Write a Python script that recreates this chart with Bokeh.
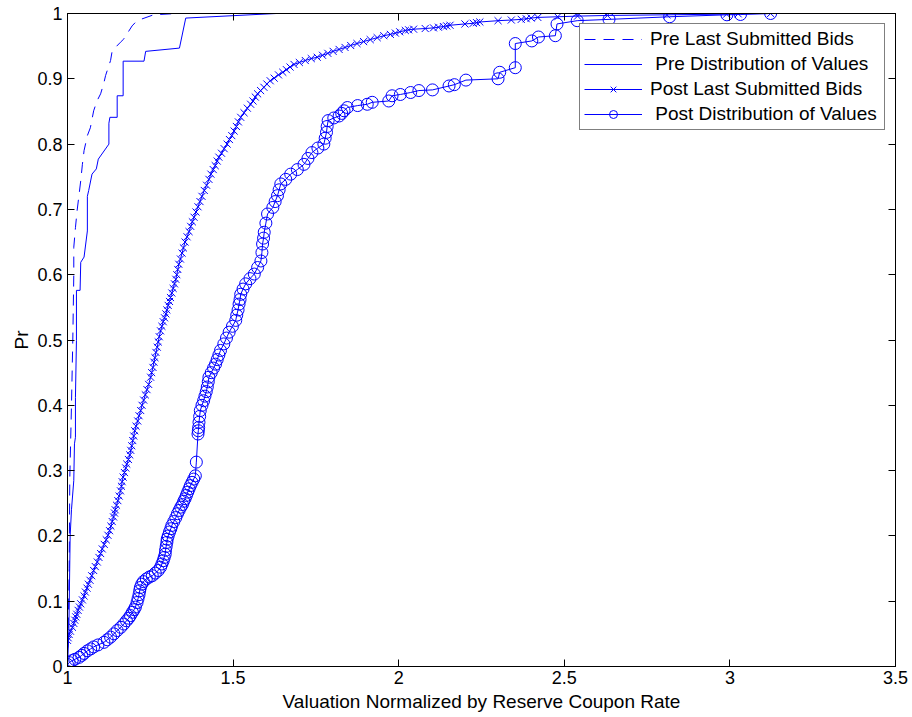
from bokeh.plotting import figure
from bokeh.models import (Range1d, FixedTicker, LinearAxis, Legend, LegendItem,
                          CustomLabelingPolicy)
from bokeh.embed import file_html
from bokeh.resources import INLINE

# ---------------------------------------------------------------------------
# Data: empirical distributions of normalized valuations
# ---------------------------------------------------------------------------
x_ticks = [1, 1.5, 2, 2.5, 3, 3.5]
x_tick_labels = ["1", "1.5", "2", "2.5", "3", "3.5"]
y_ticks = [0, 0.1, 0.2, 0.3, 0.4, 0.5, 0.6, 0.7, 0.8, 0.9, 1]
y_tick_labels = ["0", "0.1", "0.2", "0.3", "0.4", "0.5", "0.6", "0.7", "0.8", "0.9", "1"]

series_names = [
    "Pre Last Submitted Bids",
    "\u00a0Pre Distribution of Values",
    "Post Last Submitted Bids",
    "\u00a0Post Distribution of Values",
]

# Pre period, last submitted bids
pre_bids_x = [1.000, 1.002, 1.005, 1.007, 1.012, 1.016, 1.019, 1.019, 1.024, 1.029,
              1.035, 1.040, 1.045, 1.050, 1.060, 1.069, 1.079, 1.089, 1.100, 1.110,
              1.115, 1.130, 1.135, 1.160, 1.170, 1.195, 1.210, 1.260, 1.330]
pre_bids_p = [0.000, 0.050, 0.150, 0.290, 0.400, 0.500, 0.600, 0.642, 0.672, 0.698,
              0.723, 0.744, 0.769, 0.790, 0.813, 0.825, 0.851, 0.866, 0.877, 0.894,
              0.905, 0.928, 0.943, 0.956, 0.961, 0.981, 0.989, 0.998, 1.000]

# Pre period, distribution of values
pre_vals_x = [1.000, 1.004, 1.008, 1.012, 1.019, 1.021, 1.024, 1.024, 1.027, 1.027,
              1.038, 1.040, 1.050, 1.060, 1.060, 1.064, 1.074, 1.087, 1.093, 1.125,
              1.125, 1.128, 1.150, 1.150, 1.168, 1.168, 1.231, 1.236, 1.338, 1.357,
              1.630]
pre_vals_p = [0.000, 0.050, 0.200, 0.240, 0.285, 0.341, 0.351, 0.412, 0.499, 0.576,
              0.576, 0.619, 0.627, 0.667, 0.720, 0.729, 0.754, 0.762, 0.777, 0.800,
              0.832, 0.841, 0.841, 0.874, 0.874, 0.927, 0.927, 0.942, 0.947, 0.993,
              1.000]

# Post period, last submitted bids
post_bids_x = [1.000, 1.002, 1.005, 1.009, 1.015, 1.019, 1.022, 1.025, 1.028, 1.032,
               1.036, 1.040, 1.045, 1.050, 1.054, 1.059, 1.063, 1.068, 1.073, 1.079,
               1.084, 1.090, 1.095, 1.100, 1.105, 1.111, 1.117, 1.122, 1.127, 1.131,
               1.135, 1.139, 1.142, 1.144, 1.148, 1.152, 1.156, 1.160, 1.163, 1.165,
               1.168, 1.172, 1.176, 1.179, 1.184, 1.188, 1.191, 1.194, 1.197, 1.200,
               1.203, 1.207, 1.212, 1.216, 1.221, 1.225, 1.230, 1.235, 1.240, 1.245,
               1.251, 1.254, 1.258, 1.261, 1.264, 1.267, 1.271, 1.274, 1.277, 1.281,
               1.285, 1.289, 1.293, 1.297, 1.300, 1.304, 1.308, 1.311, 1.315, 1.319,
               1.323, 1.327, 1.330, 1.333, 1.336, 1.341, 1.346, 1.350, 1.355, 1.361,
               1.367, 1.372, 1.377, 1.382, 1.388, 1.394, 1.400, 1.406, 1.413, 1.420,
               1.427, 1.433, 1.440, 1.446, 1.452, 1.457, 1.465, 1.473, 1.482, 1.489,
               1.496, 1.503, 1.510, 1.516, 1.523, 1.533, 1.543, 1.553, 1.560, 1.567,
               1.574, 1.583, 1.593, 1.602, 1.612, 1.624, 1.637, 1.650, 1.661, 1.672,
               1.684, 1.700, 1.718, 1.736, 1.754, 1.770, 1.786, 1.802, 1.820, 1.838,
               1.855, 1.874, 1.894, 1.914, 1.935, 1.955, 1.975, 1.990, 2.003, 2.020,
               2.030, 2.045, 2.080, 2.105, 2.120, 2.135, 2.145, 2.155, 2.200, 2.225,
               2.235, 2.245, 2.300, 2.340, 2.370, 2.385, 2.400, 2.420, 2.480, 2.540,
               2.630, 2.810, 2.990, 3.025, 3.123]
post_bids_p = [0.040, 0.044, 0.049, 0.054, 0.060, 0.066, 0.071, 0.076, 0.080, 0.086,
               0.091, 0.096, 0.102, 0.108, 0.114, 0.120, 0.126, 0.132, 0.139, 0.147,
               0.153, 0.160, 0.167, 0.173, 0.180, 0.187, 0.194, 0.201, 0.208, 0.215,
               0.222, 0.229, 0.235, 0.240, 0.247, 0.254, 0.261, 0.269, 0.276, 0.283,
               0.290, 0.297, 0.304, 0.310, 0.317, 0.324, 0.331, 0.338, 0.346, 0.353,
               0.361, 0.368, 0.376, 0.384, 0.392, 0.400, 0.408, 0.416, 0.424, 0.432,
               0.443, 0.450, 0.458, 0.466, 0.473, 0.481, 0.489, 0.497, 0.505, 0.514,
               0.521, 0.528, 0.534, 0.540, 0.546, 0.553, 0.559, 0.565, 0.572, 0.579,
               0.586, 0.593, 0.600, 0.608, 0.616, 0.624, 0.633, 0.641, 0.650, 0.658,
               0.666, 0.674, 0.681, 0.688, 0.696, 0.704, 0.712, 0.720, 0.729, 0.737,
               0.746, 0.754, 0.761, 0.767, 0.774, 0.780, 0.786, 0.793, 0.800, 0.807,
               0.813, 0.820, 0.827, 0.834, 0.841, 0.848, 0.855, 0.861, 0.866, 0.872,
               0.877, 0.882, 0.887, 0.892, 0.897, 0.901, 0.906, 0.910, 0.914, 0.918,
               0.922, 0.925, 0.928, 0.931, 0.933, 0.936, 0.939, 0.942, 0.945, 0.948,
               0.951, 0.954, 0.957, 0.960, 0.963, 0.966, 0.968, 0.970, 0.972, 0.974,
               0.975, 0.976, 0.977, 0.978, 0.979, 0.980, 0.981, 0.982, 0.984, 0.985,
               0.986, 0.987, 0.989, 0.990, 0.991, 0.992, 0.993, 0.994, 0.995, 0.996,
               0.997, 0.998, 0.999, 0.9995, 1.000]

# Post period, distribution of values
post_vals_x = [1.000, 1.005, 1.014, 1.022, 1.035, 1.043, 1.050, 1.060, 1.070, 1.079,
               1.092, 1.110, 1.120, 1.130, 1.140, 1.150, 1.161, 1.170, 1.178, 1.185,
               1.190, 1.196, 1.201, 1.205, 1.210, 1.213, 1.216, 1.218, 1.220, 1.224,
               1.229, 1.238, 1.247, 1.256, 1.265, 1.274, 1.281, 1.285, 1.289, 1.292,
               1.295, 1.296, 1.298, 1.300, 1.301, 1.304, 1.308, 1.312, 1.315, 1.321,
               1.327, 1.332, 1.337, 1.342, 1.347, 1.351, 1.355, 1.359, 1.363, 1.367,
               1.371, 1.376, 1.381, 1.386, 1.389, 1.394, 1.395, 1.396, 1.397, 1.399,
               1.401, 1.406, 1.411, 1.415, 1.419, 1.422, 1.425, 1.427, 1.434, 1.441,
               1.447, 1.452, 1.457, 1.462, 1.472, 1.480, 1.488, 1.498, 1.508, 1.511,
               1.515, 1.518, 1.521, 1.523, 1.530, 1.538, 1.551, 1.564, 1.574, 1.584,
               1.587, 1.589, 1.592, 1.594, 1.599, 1.604, 1.620, 1.627, 1.634, 1.639,
               1.644, 1.659, 1.674, 1.694, 1.714, 1.726, 1.738, 1.756, 1.774, 1.778,
               1.782, 1.784, 1.787, 1.804, 1.820, 1.828, 1.835, 1.845, 1.876, 1.905,
               1.920, 1.970, 1.980, 2.005, 2.036, 2.061, 2.102, 2.152, 2.168, 2.203,
               2.300, 2.305, 2.352, 2.352, 2.402, 2.422, 2.473, 2.478, 2.539, 2.635,
               2.818, 2.991, 3.032, 3.123]
post_vals_p = [0.003, 0.006, 0.009, 0.011, 0.014, 0.017, 0.020, 0.024, 0.027, 0.030,
               0.033, 0.037, 0.041, 0.045, 0.050, 0.055, 0.060, 0.065, 0.070, 0.074,
               0.078, 0.083, 0.087, 0.091, 0.098, 0.104, 0.110, 0.116, 0.121, 0.126,
               0.130, 0.134, 0.137, 0.139, 0.143, 0.147, 0.152, 0.157, 0.162, 0.167,
               0.172, 0.178, 0.184, 0.190, 0.195, 0.200, 0.206, 0.211, 0.216, 0.222,
               0.228, 0.234, 0.239, 0.244, 0.248, 0.253, 0.257, 0.262, 0.267, 0.272,
               0.277, 0.282, 0.287, 0.292, 0.313, 0.356, 0.361, 0.366, 0.374, 0.383,
               0.392, 0.400, 0.407, 0.414, 0.421, 0.428, 0.436, 0.443, 0.450, 0.457,
               0.463, 0.470, 0.477, 0.484, 0.494, 0.503, 0.512, 0.521, 0.530, 0.538,
               0.546, 0.555, 0.562, 0.570, 0.578, 0.586, 0.594, 0.601, 0.611, 0.621,
               0.634, 0.647, 0.656, 0.665, 0.679, 0.693, 0.703, 0.712, 0.721, 0.730,
               0.739, 0.746, 0.754, 0.761, 0.769, 0.778, 0.787, 0.794, 0.800, 0.809,
               0.818, 0.827, 0.836, 0.840, 0.843, 0.847, 0.851, 0.856, 0.859, 0.861,
               0.864, 0.866, 0.874, 0.876, 0.879, 0.882, 0.883, 0.889, 0.891, 0.898,
               0.900, 0.910, 0.917, 0.954, 0.958, 0.964, 0.966, 0.984, 0.989, 0.991,
               0.995, 0.998, 0.9985, 1.000]

# ---------------------------------------------------------------------------
# Styling
# ---------------------------------------------------------------------------
BLUE = "#0000ff"
FONT = "Liberation Sans"
TICK_SIZE = "18px"
LABEL_SIZE = "19px"

p = figure(
    width=912, height=717,
    x_range=Range1d(1, 3.5), y_range=Range1d(0, 1),
    output_backend="svg", toolbar_location=None,
    min_border_left=67, min_border_right=17, min_border_top=13, min_border_bottom=51,
    x_axis_label="Valuation Normalized by Reserve Coupon Rate",
    y_axis_label="Pr",
)
p.grid.visible = False
p.outline_line_color = "black"
p.outline_line_width = 1
p.background_fill_color = "white"
p.border_fill_color = "white"

# Curves
r_pre_bids = p.line(pre_bids_x, pre_bids_p, line_color=BLUE, line_width=1, line_dash="11 8")
r_pre_vals = p.line(pre_vals_x, pre_vals_p, line_color=BLUE, line_width=1)
r_post_bids_line = p.line(post_bids_x, post_bids_p, line_color=BLUE, line_width=1)
r_post_bids_pts = p.scatter(post_bids_x, post_bids_p, marker="x", size=10,
                            line_color=BLUE, line_width=1)
r_post_vals_line = p.line(post_vals_x, post_vals_p, line_color=BLUE, line_width=1)
r_post_vals_pts = p.scatter(post_vals_x, post_vals_p, marker="circle", size=12,
                            line_color=BLUE, fill_color=None, line_width=1)

# Box axes with inward ticks on all four sides
bottom_axis = p.below[0]
left_axis = p.left[0]
top_axis = LinearAxis()
right_axis = LinearAxis()
p.add_layout(top_axis, "above")
p.add_layout(right_axis, "right")

for ax in [bottom_axis, top_axis]:
    ax.ticker = FixedTicker(ticks=x_ticks)
    ax.major_label_overrides = dict(zip(x_ticks, x_tick_labels))
for ax in [left_axis, right_axis]:
    ax.ticker = FixedTicker(ticks=y_ticks)
    ax.major_label_overrides = dict(zip(y_ticks, y_tick_labels))

for ax in [bottom_axis, left_axis, top_axis, right_axis]:
    ax.axis_line_color = "black"
    ax.axis_line_width = 1
    ax.major_tick_line_color = "black"
    ax.major_tick_in = 7
    ax.major_tick_out = 0
    ax.minor_tick_in = 0
    ax.minor_tick_out = 0
    ax.major_label_text_font = FONT
    ax.major_label_text_font_size = TICK_SIZE
    ax.major_label_text_color = "black"
    ax.axis_label_text_font = FONT
    ax.axis_label_text_font_size = LABEL_SIZE
    ax.axis_label_text_font_style = "normal"
    ax.axis_label_text_color = "black"

# mirrored axes carry tick marks only
for ax in [top_axis, right_axis]:
    ax.major_label_policy = CustomLabelingPolicy(code="return []")
    ax.major_label_text_font_size = "1px"
    ax.major_label_standoff = 0

bottom_axis.major_label_standoff = 4
bottom_axis.axis_label_standoff = 4
left_axis.major_label_standoff = 5
left_axis.axis_label_standoff = 2

# Legend
legend = Legend(
    items=[
        LegendItem(label=series_names[0], renderers=[r_pre_bids]),
        LegendItem(label=series_names[1], renderers=[r_pre_vals]),
        LegendItem(label=series_names[2], renderers=[r_post_bids_line, r_post_bids_pts]),
        LegendItem(label=series_names[3], renderers=[r_post_vals_line, r_post_vals_pts]),
    ],
    location="top_right",
    margin=10,
    padding=4,
    spacing=3,
    glyph_width=58,
    glyph_height=20,
    label_standoff=8,
    label_width=230,
    label_text_font=FONT,
    label_text_font_size=LABEL_SIZE,
    label_text_color="black",
    border_line_color="black",
    border_line_width=1,
    background_fill_color="white",
    background_fill_alpha=1.0,
)
p.add_layout(legend)

open("out.html", "w").write(file_html(p, INLINE))
